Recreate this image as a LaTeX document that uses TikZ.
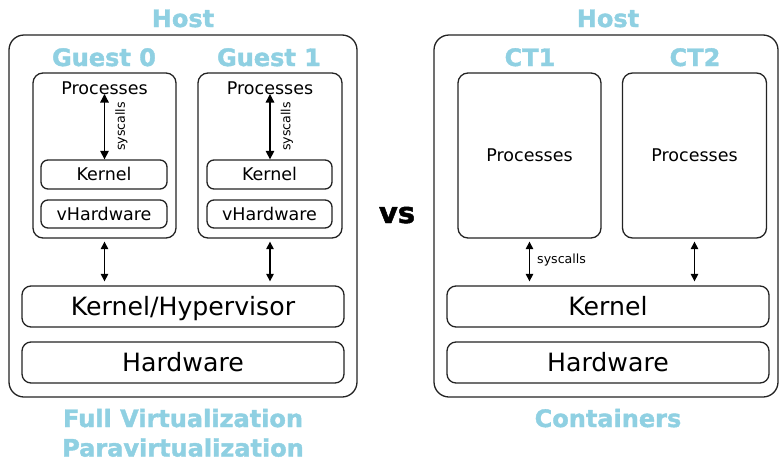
\documentclass[tikz,border=0pt]{standalone}
\usepackage{fontspec}
\setmainfont{DejaVu Sans}
\newfontfamily\headfont{DejaVu Sans Bold}[FakeBold=1.6]
\usetikzlibrary{arrows.meta}
\definecolor{headblue}{RGB}{143,208,226}
\definecolor{edge}{RGB}{35,35,35}

\begin{document}
\begin{tikzpicture}[x=1pt, y=-1pt,
  box/.style={draw=edge, line width=1.3pt, rounded corners=#1, inner sep=0pt},
  box/.default=8pt,
  sz/.style 2 args={minimum width=#1pt, minimum height=#2pt},
  txt/.style={font=\fontsize{17.5pt}{20pt}\selectfont, text height=12.8pt, text depth=0pt},
  big/.style={font=\fontsize{25.2pt}{28pt}\selectfont, text height=18.4pt, text depth=0pt},
  sc/.style={font=\fontsize{12.6pt}{14pt}\selectfont, inner sep=0pt},
  head/.style={text=headblue, font=\fontsize{24pt}{28pt}\headfont,
               anchor=base, inner sep=0pt, text depth=0pt},
  dbl/.style={{Triangle[length=8.5pt,width=8.5pt]}-{Triangle[length=8.5pt,width=8.5pt]},
              line width=1.4pt, draw=black},
  dbls/.style={{Triangle[length=7.5pt,width=7.5pt]}-{Triangle[length=7.5pt,width=7.5pt]},
              line width=1.2pt, draw=black, shorten <=3pt, shorten >=4pt},
]
\useasboundingbox (0,0) rectangle (780,461);

% ---------- full virtualization / paravirtualization ----------
\node[box=15pt, sz={348}{362}] (hostL) at (183,216) {};
\node[head] (hostLt) at (183,27) {Host};
\node[head] (g0t) at (104,66) {Guest 0};
\node[head] (g1t) at (269,66) {Guest 1};

\node[box=10pt, sz={143}{165}] (g0) at (104.5,155.5) {};
\node[box=10pt, sz={144}{165}] (g1) at (270,155.5) {};

\node[txt, anchor=base, inner sep=0pt] (p0) at (104.5,94) {Processes};
\node[txt, anchor=base, inner sep=0pt] (p1) at (270,94) {Processes};

\node[box=7pt, sz={126}{29}, txt] (k0) at (104,174.5) {Kernel};
\node[box=7pt, sz={126}{28}, txt] (v0) at (104,214) {vHardware};
\node[box=7pt, sz={125}{29}, txt] (k1) at (269.5,174.5) {Kernel};
\node[box=7pt, sz={125}{28}, txt] (v1) at (269.5,214) {vHardware};

\draw[dbl] (p0.base) -- (p0.base |- k0.north);
\draw[dbl] (p1.base) -- (p1.base |- k1.north);
\node[sc, rotate=90] (sc0) at (121.5,126.5) {syscalls};
\node[sc, rotate=90] (sc1) at (287,126.5) {syscalls};

\node[box=9pt, sz={322}{41}, big] (kh) at (183,306.5) {Kernel/Hypervisor};
\node[box=9pt, sz={322}{41}, big] (hwL) at (183,362.5) {Hardware};

\draw[dbls] (g0.south) -- (g0.south |- kh.north);
\draw[dbls] (g1.south) -- (g1.south |- kh.north);

\node[head] (fv) at (183,427) {Full Virtualization};
\node[head] (pv) at (183,456.5) {Paravirtualization};

% ---------- versus ----------
\node[anchor=base, inner sep=0pt, text depth=0pt, font=\fontsize{29pt}{30pt}\headfont] (vs) at (397,223) {vs};

% ---------- containers ----------
\node[box=15pt, sz={344}{362}] (hostR) at (606,216) {};
\node[head] (hostRt) at (608,27) {Host};
\node[head] (ct1t) at (530,66) {CT1};
\node[head] (ct2t) at (695,66) {CT2};

\node[box=10pt, sz={143}{165}, txt] (ct1) at (529.5,155.5) {Processes};
\node[box=10pt, sz={144}{165}, txt] (ct2) at (694.5,155.5) {Processes};

\node[box=9pt, sz={322}{41}, big] (kr) at (608,306.5) {Kernel};
\node[box=9pt, sz={322}{41}, big] (hwR) at (608,362.5) {Hardware};

\draw[dbls] (ct1.south) -- (ct1.south |- kr.north);
\draw[dbls] (ct2.south) -- (ct2.south |- kr.north);
\node[sc, anchor=base west] (scR) at (537,263) {syscalls};

\node[head] (cont) at (608,427) {Containers};
\end{tikzpicture}
\end{document}
